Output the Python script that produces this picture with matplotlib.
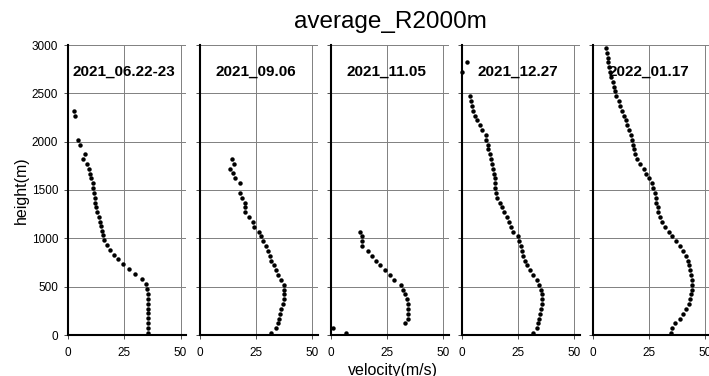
import matplotlib.pyplot as plt
import matplotlib.transforms as mtransforms

plt.rcParams['font.family'] = ['Liberation Sans', 'DejaVu Sans']

# sounding dates, one panel each
dates = ["2021_06.22-23", "2021_09.06", "2021_11.05", "2021_12.27", "2022_01.17"]

# 2021_06.22-23
h1 = [2320, 2270, 2020, 1970, 1870, 1820, 1770, 1720, 1670, 1620, 1570, 1520, 1470, 1420,
      1370, 1320, 1270, 1220, 1172, 1128, 1079, 1031, 983, 931, 879, 831, 783, 731, 680,
      631, 576, 528, 476, 424, 372, 324, 272, 224, 172, 121, 69, 17]
v1 = [2.7, 3.3, 4.4, 5.3, 7.6, 6.8, 8.3, 9.2, 9.8, 10.4, 11.3, 11.3, 11.6, 11.9,
      12.1, 12.4, 12.9, 13.6, 14.2, 14.5, 15.0, 15.4, 16.0, 17.2, 18.7, 20.4, 22.2, 24.3, 27.1,
      29.9, 32.9, 34.7, 35.3, 35.4, 35.4, 35.5, 35.6, 35.6, 35.6, 35.6, 35.6, 35.6]

# 2021_09.06
h2 = [1817, 1769, 1721, 1672, 1621, 1569, 1472, 1420, 1369, 1321, 1272, 1221,
      1169, 1117, 1070, 1020, 970, 920, 870, 820, 770, 720, 670, 620, 570, 520, 470,
      420, 370, 320, 270, 220, 170, 120, 70, 20]
v2 = [14.5, 15.1, 13.6, 14.8, 15.7, 17.8, 17.8, 18.8, 20.4, 20.0, 20.1, 21.9,
      23.7, 24.4, 26.2, 27.4, 28.1, 29.6, 30.4, 31.1, 31.9, 32.9, 33.8, 34.8, 36.3, 37.5, 37.5,
      37.5, 37.5, 37.0, 36.3, 35.9, 35.3, 34.8, 34.1, 31.9]

# 2021_11.05
h3 = [1070, 1020, 970, 920, 870, 820, 770, 720, 670, 620, 570, 520, 470, 420, 370,
      320, 270, 220, 170, 120, 70, 20]
v3 = [13.3, 13.9, 13.9, 13.9, 16.7, 18.5, 20.3, 22.2, 24.4, 26.4, 28.4, 31.1, 32.4, 33.0, 34.1,
      34.5, 34.5, 34.5, 34.4, 33.3, 0.9, 6.8]

# 2021_12.27
h4 = [2820, 2720, 2470, 2420, 2370, 2320, 2270, 2220, 2170, 2120, 2070, 2020, 1970, 1920,
      1870, 1820, 1770, 1720, 1670, 1620, 1570, 1520, 1470, 1420, 1370, 1320, 1270, 1220,
      1170, 1120, 1070, 1020, 970, 920, 870, 820, 770, 720, 670, 620, 570, 520, 470, 420,
      370, 320, 270, 220, 170, 120, 70, 20]
v4 = [2.5, 0.4, 3.7, 4.1, 4.6, 5.2, 5.8, 7.1, 8.0, 9.3, 10.8, 11.1, 11.6, 11.7,
      12.7, 13.3, 13.6, 14.1, 14.5, 15.0, 15.0, 15.0, 15.1, 15.6, 17.0, 17.8, 19.0, 20.0,
      21.0, 22.2, 23.0, 24.9, 25.6, 26.4, 26.7, 27.4, 28.1, 28.9, 30.4, 31.9, 33.5, 34.5, 35.1, 35.7,
      35.9, 35.6, 35.1, 34.8, 34.5, 34.1, 33.6, 31.9]

# 2022_01.17
h5 = [2970, 2920, 2870, 2820, 2770, 2720, 2670, 2620, 2570, 2520, 2470, 2420, 2370, 2320,
      2270, 2220, 2170, 2120, 2070, 2020, 1970, 1920, 1870, 1820, 1770, 1720, 1670, 1620,
      1570, 1520, 1470, 1420, 1370, 1320, 1270, 1220, 1170, 1120, 1070, 1020, 970, 920,
      870, 820, 770, 720, 670, 620, 570, 520, 470, 420, 370, 320, 270, 220, 170, 120, 70, 20]
v5 = [6.1, 6.4, 6.7, 7.0, 7.2, 7.7, 8.2, 9.0, 9.5, 10.0, 10.6, 11.9, 12.3, 13.0,
      14.2, 14.8, 15.3, 16.4, 17.0, 17.5, 17.9, 18.5, 18.9, 19.7, 21.2, 22.7, 23.9, 25.3,
      26.4, 26.8, 27.9, 28.3, 28.3, 28.9, 29.3, 30.1, 30.7, 32.3, 33.8, 35.3, 37.2, 38.7,
      40.1, 41.6, 42.2, 42.7, 43.1, 43.7, 44.1, 44.1, 44.1, 43.7, 43.4, 42.7, 41.6, 40.4, 38.9, 36.7, 35.3, 34.8]

heights = [h1, h2, h3, h4, h5]
speeds = [v1, v2, v3, v4, v5]

fig = plt.figure(figsize=(7.09, 3.76), dpi=100)

lefts = [68, 199.5, 330.5, 461.5, 592.5]
for i, (left, date, h, v) in enumerate(zip(lefts, dates, heights, speeds)):
    ax = fig.add_axes([left / 709, 41 / 376, 118 / 709, 290 / 376])
    ax.plot(v, h, 'o', color='black', ms=3.2, mec='none', clip_on=False, zorder=3)
    ax.set_xlim(0, 52.4)
    ax.set_ylim(0, 3000)
    ax.set_xticks([0, 25, 50])
    ax.set_yticks([0, 500, 1000, 1500, 2000, 2500, 3000])
    ax.grid(True, color='0.5', lw=0.7)
    for s in ['top', 'right']:
        ax.spines[s].set_visible(False)
    for s in ['left', 'bottom']:
        ax.spines[s].set_linewidth(1.5)
        ax.spines[s].set_zorder(4)
    ax.tick_params(direction='out', length=3, width=0.7, color='0.3',
                   pad=4, labelsize=8.5)
    ax.tick_params(axis='x', pad=6)
    if i > 0:
        ax.tick_params(axis='y', labelleft=False)
    else:
        ax.set_ylabel('height(m)', fontsize=11.5, labelpad=2)
    trans = mtransforms.blended_transform_factory(ax.transData, ax.transAxes)
    ax.text(25, 0.908, date, transform=trans, ha='center', va='center',
            fontsize=11, fontweight='bold', zorder=5)

fig.text(390 / 709, 1 - 22 / 376, 'average_R2000m', ha='center', va='center', fontsize=17.5)
fig.text(393 / 709, 1 - 370 / 376, 'velocity(m/s)', ha='center', va='center', fontsize=11.5)

plt.savefig('out.png', dpi=100)
